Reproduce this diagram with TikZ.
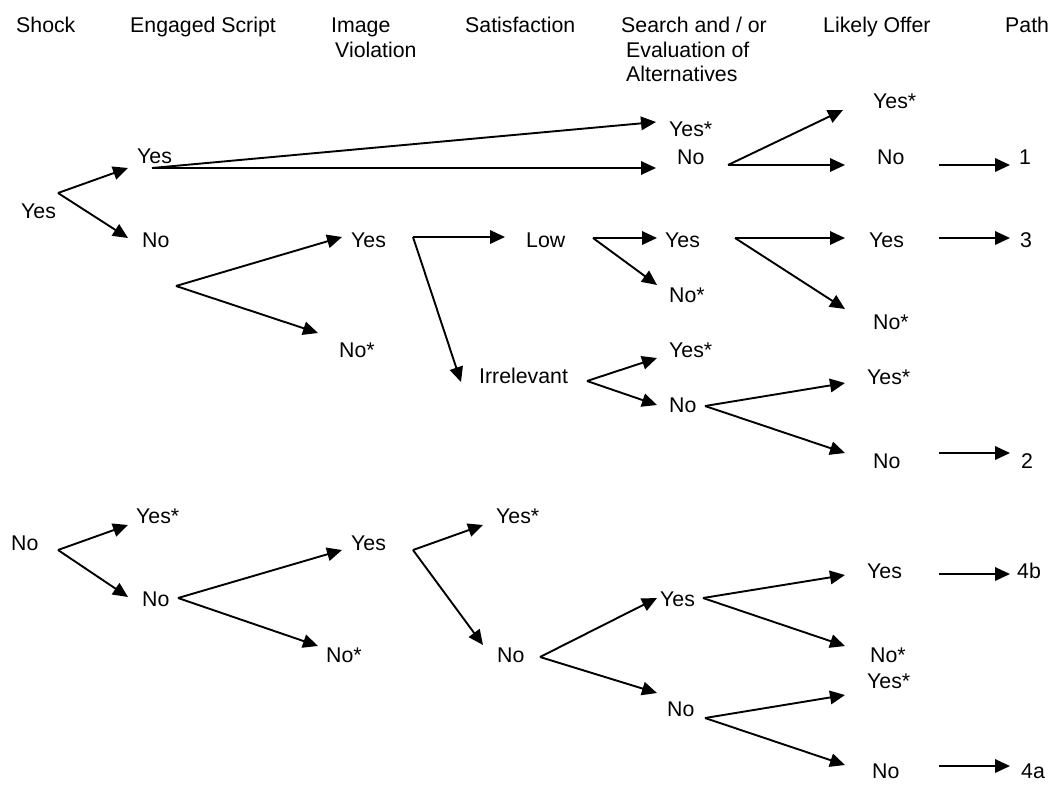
\documentclass[tikz,border=0pt]{standalone}
\usepackage{fontspec}
\setmainfont{Liberation Sans}
\usetikzlibrary{arrows.meta}
\begin{document}
\begin{tikzpicture}[x=1pt,y=-1pt,
  lbl/.style={anchor=base west, inner sep=0pt, font=\fontsize{21.3}{24}\selectfont},
  arr/.style={line width=1.9pt, line join=miter, -{Triangle[length=15pt,width=13.5pt]}}]
\useasboundingbox (0,0) rectangle (1061,785);

% ---------- column headings ----------
\node[lbl] (hShock)  at (16,32)  {Shock};
\node[lbl] (hScript) at (130,32) {Engaged Script};
\node[lbl] (hImgA)   at (331,32) {Image};
\node[lbl] (hImgB)   at (335,57) {Violation};
\node[lbl] (hSat)    at (465,32) {Satisfaction};
\node[lbl] (hSrchA)  at (621,32) {Search and / or};
\node[lbl] (hSrchB)  at (626,57) {Evaluation of};
\node[lbl] (hSrchC)  at (626,81) {Alternatives};
\node[lbl] (hOffer)  at (823,32) {Likely Offer};
\node[lbl] (hPath)   at (1005,32) {Path};

% ---------- upper tree (shock = yes) ----------
\node[lbl] (sYes)   at (21,218)  {Yes};
\node[lbl] (eYes)   at (137,163) {Yes};
\node[lbl] (eNo)    at (142,247) {No};
\node[lbl] (iYes)   at (351,247) {Yes};
\node[lbl] (iNoS)   at (339,357) {No*};
\node[lbl] (tLow)   at (526,247) {Low};
\node[lbl] (tIrr)   at (479,383) {Irrelevant};
\node[lbl] (aYesS)  at (669,136) {Yes*};
\node[lbl] (aNoA)   at (677,164) {No};
\node[lbl] (aYesB)  at (665,247) {Yes};
\node[lbl] (aNoSB)  at (669,302) {No*};
\node[lbl] (aYesSC) at (669,357) {Yes*};
\node[lbl] (aNoC)   at (669,412) {No};
\node[lbl] (oYesSA) at (873,108) {Yes*};
\node[lbl] (oNoA)   at (877,164) {No};
\node[lbl] (oYesB)  at (869,247) {Yes};
\node[lbl] (oNoSB)  at (873,329) {No*};
\node[lbl] (oYesSC) at (867,384) {Yes*};
\node[lbl] (oNoC)   at (873,468) {No};
\node[lbl] (p1)     at (1019,164) {1};
\node[lbl] (p3)     at (1020,247) {3};
\node[lbl] (p2)     at (1021,468) {2};

% ---------- lower tree (shock = no) ----------
\node[lbl] (sNo)    at (11,550)  {No};
\node[lbl] (eYesS)  at (136,523) {Yes*};
\node[lbl] (eNoB)   at (142,606) {No};
\node[lbl] (iYesB)  at (351,550) {Yes};
\node[lbl] (iNoSB)  at (326,662) {No*};
\node[lbl] (tYesS)  at (496,523) {Yes*};
\node[lbl] (tNo)    at (497,662) {No};
\node[lbl] (aYesD)  at (660,606) {Yes};
\node[lbl] (aNoE)   at (667,716) {No};
\node[lbl] (oYesD)  at (867,578) {Yes};
\node[lbl] (oNoSD)  at (870,662) {No*};
\node[lbl] (oYesSE) at (867,688) {Yes*};
\node[lbl] (oNoE)   at (872,778) {No};
\node[lbl] (p4b)    at (1017,578) {4b};
\node[lbl] (p4a)    at (1021,778) {4a};

% ---------- branch points ----------
\coordinate (bShY)  at (58,193);
\coordinate (bEY)   at (152,168);
\coordinate (bEN)   at (176,286);
\coordinate (bIY)   at (413,237);
\coordinate (bLow)  at (593,238);
\coordinate (bIrr)  at (587,381);
\coordinate (bANA)  at (728,165);
\coordinate (bAYB)  at (735,238);
\coordinate (bANC)  at (705,406);
\coordinate (bShN)  at (58,550);
\coordinate (bENB)  at (178,598);
\coordinate (bIYB)  at (413,550);
\coordinate (bTN)   at (540,657);
\coordinate (bAYD)  at (703,598);
\coordinate (bANE)  at (705,718);
\coordinate (bO1)   at (939,165);
\coordinate (bO3)   at (939,238);
\coordinate (bO2)   at (939,453);
\coordinate (bO4b)  at (939,574);
\coordinate (bO4a)  at (939,766);

% ---------- arrow ends ----------
\coordinate (toEYes)   at (128,168);
\coordinate (toENo)    at (128,238);
\coordinate (toAYesS)  at (656,122);
\coordinate (toANoA)   at (656,168);
\coordinate (toIYes)   at (342,237);
\coordinate (toINoS)   at (318,333);
\coordinate (toTLow)   at (505,237);
\coordinate (toTIrr)   at (461,382);
\coordinate (toAYesB)  at (657,238);
\coordinate (toANoSB)  at (657,285);
\coordinate (toOYesSA) at (843,110);
\coordinate (toONoA)   at (845,165);
\coordinate (toOYesB)  at (845,238);
\coordinate (toONoSB)  at (845,309);
\coordinate (toAYesSC) at (657,358);
\coordinate (toANoC)   at (657,405);
\coordinate (toOYesSC) at (845,383);
\coordinate (toONoC)   at (845,453);
\coordinate (toP1)     at (1010,165);
\coordinate (toP3)     at (1010,238);
\coordinate (toP2)     at (1010,453);
\coordinate (toEYesS)  at (128,525);
\coordinate (toENoB)   at (128,597);
\coordinate (toIYesB)  at (342,550);
\coordinate (toINoSB)  at (318,646);
\coordinate (toTYesS)  at (483,525);
\coordinate (toTNo)    at (483,645);
\coordinate (toAYesD)  at (657,598);
\coordinate (toANoE)   at (657,693);
\coordinate (toOYesD)  at (845,575);
\coordinate (toONoSD)  at (845,646);
\coordinate (toOYesSE) at (845,695);
\coordinate (toONoE)   at (845,765);
\coordinate (toP4b)    at (1010,574);
\coordinate (toP4a)    at (1010,766);

% ---------- connectors ----------
\draw[arr] (bShY) -- (toEYes);
\draw[arr] (bShY) -- (toENo);
\draw[arr] (bEY) -- (toAYesS);
\draw[arr] (bEY) -- (toANoA);
\draw[arr] (bEN) -- (toIYes);
\draw[arr] (bEN) -- (toINoS);
\draw[arr] (bIY) -- (toTLow);
\draw[arr] (bIY) -- (toTIrr);
\draw[arr] (bLow) -- (toAYesB);
\draw[arr] (bLow) -- (toANoSB);
\draw[arr] (bANA) -- (toOYesSA);
\draw[arr] (bANA) -- (toONoA);
\draw[arr] (bAYB) -- (toOYesB);
\draw[arr] (bAYB) -- (toONoSB);
\draw[arr] (bIrr) -- (toAYesSC);
\draw[arr] (bIrr) -- (toANoC);
\draw[arr] (bANC) -- (toOYesSC);
\draw[arr] (bANC) -- (toONoC);
\draw[arr] (bO1) -- (toP1);
\draw[arr] (bO3) -- (toP3);
\draw[arr] (bO2) -- (toP2);

\draw[arr] (bShN) -- (toEYesS);
\draw[arr] (bShN) -- (toENoB);
\draw[arr] (bENB) -- (toIYesB);
\draw[arr] (bENB) -- (toINoSB);
\draw[arr] (bIYB) -- (toTYesS);
\draw[arr] (bIYB) -- (toTNo);
\draw[arr] (bTN) -- (toAYesD);
\draw[arr] (bTN) -- (toANoE);
\draw[arr] (bAYD) -- (toOYesD);
\draw[arr] (bAYD) -- (toONoSD);
\draw[arr] (bANE) -- (toOYesSE);
\draw[arr] (bANE) -- (toONoE);
\draw[arr] (bO4b) -- (toP4b);
\draw[arr] (bO4a) -- (toP4a);
\end{tikzpicture}
\end{document}
